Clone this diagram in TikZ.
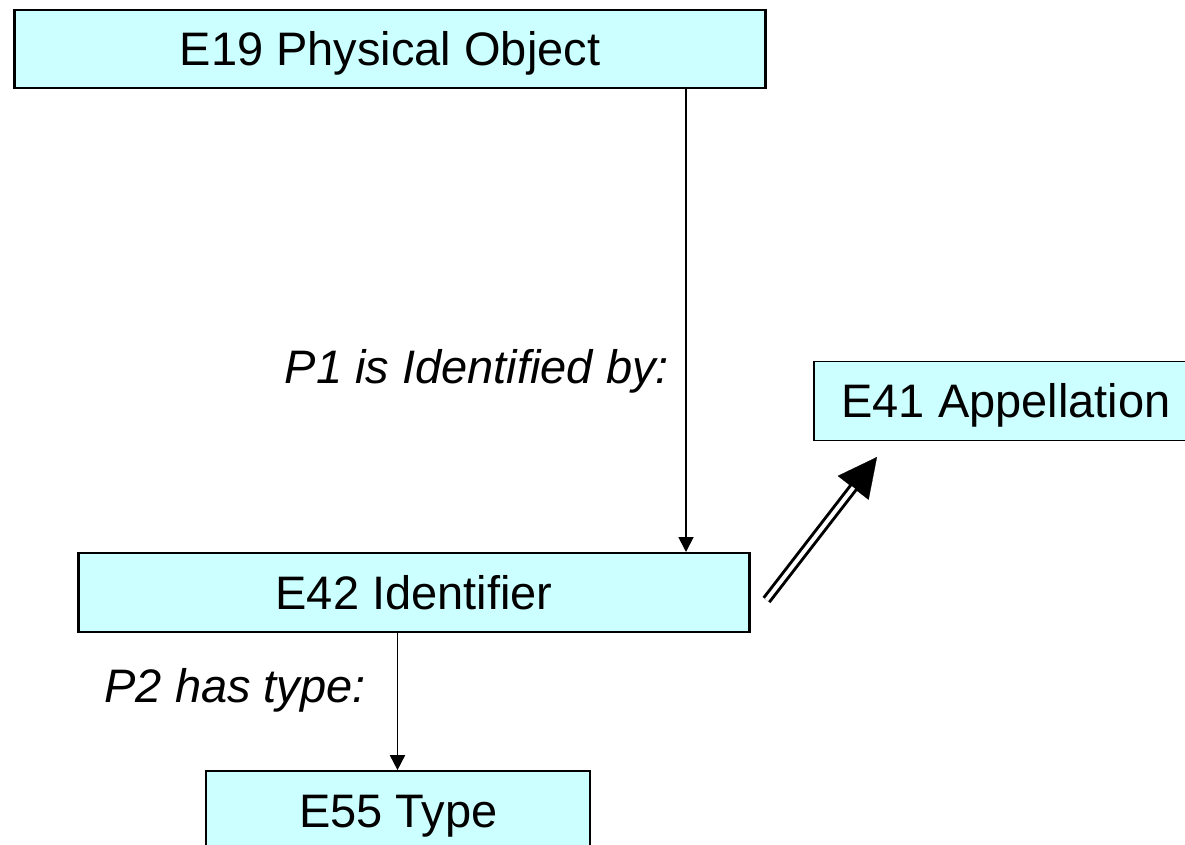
\documentclass[tikz,border=0pt]{standalone}
\usepackage{fontspec}
\setmainfont{Liberation Sans}
\usetikzlibrary{arrows.meta}
\definecolor{boxfill}{HTML}{CCFFFF}
\begin{document}
\begin{tikzpicture}[x=1pt,y=-1pt,
  entity/.style={draw=black, fill=boxfill, rectangle, inner sep=0pt,
    font=\fontsize{47pt}{56pt}\selectfont, text height=33.7pt, text depth=0pt},
  heavy/.style={entity, line width=2.4pt},
  light/.style={entity, line width=1.7pt},
  prop/.style={font=\fontsize{47pt}{56pt}\selectfont\itshape, inner sep=0pt},
  link/.style={draw=black, line width=1.8pt, -{Triangle[length=15pt,width=15pt]}},
  isa/.style={draw=black, double=white, double distance=4pt, line width=3pt}]
\useasboundingbox (0,0) rectangle (1185,845);

% entities
\node[heavy, minimum width=751pt, minimum height=78pt] (e19) at (390,49) {E19 Physical Object};
\node[heavy, minimum width=671pt, minimum height=79pt] (e42) at (414,592.7) {E42 Identifier};
\node[light, minimum width=384pt, minimum height=79pt] (e41) at (1006,401) {E41 Appellation};
\node[light, minimum width=384pt, minimum height=79pt] (e55) at (398.3,810.5) {E55 Type};

% property labels
\node[prop, anchor=base east] (p1) at (669,383) {P1 is Identified by:};
\node[prop, anchor=base east] (p2) at (366,702) {P2 has type:};

% connector columns
\coordinate (c1) at (686,0);
\coordinate (c2) at (397.5,0);
\draw[link] (e19.south -| c1) -- (e42.north -| c1);
\draw[link] (e42.south -| c2) -- (e55.north -| c2);

% specialisation arrow (double shaft, solid head)
\coordinate (dtail) at (766.5,600);
\coordinate (dtip) at (877,457);
\draw[line width=0.2pt, -{Triangle[length=39pt,width=39pt]}] (dtail) -- (dtip);
\draw[isa, shorten >=38.5pt] (dtail) -- (dtip);
\end{tikzpicture}
\end{document}
